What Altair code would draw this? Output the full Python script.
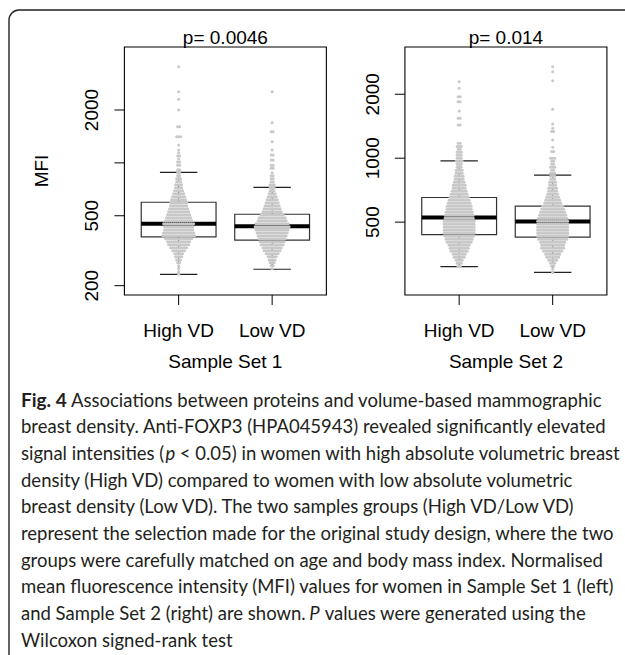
import altair as alt
import pandas as pd

# ---------------- values ----------------
groups = ["High VD", "Low VD"]
panel_titles = ["p= 0.0046", "p= 0.014"]
panel_xlabels = ["Sample Set 1", "Sample Set 2"]
y_title = "MFI"

# box statistics (MFI): lower whisker, Q1, median, Q3, upper whisker
stats_set1_high = [232, 379, 451, 597, 884]
stats_set1_low = [248, 363, 436, 510, 726]
stats_set2_high = [309, 437, 526, 653, 971]
stats_set2_low = [290, 425, 503, 595, 832]

# beeswarm rows: MFI level of a row and the number of dots in that row
set1_high_levels = [3527, 2541, 2301, 2000, 1607, 1409, 1264, 1185, 1140, 1094, 1051, 1010, 970,
                    914, 879, 845, 812, 781, 751, 722, 694, 667, 641, 617, 593, 570, 548, 527, 506,
                    487, 468, 450, 433, 416, 400, 385, 370, 356, 342, 329, 316, 304, 292, 280, 270,
                    260, 250, 240, 232]
set1_high_counts = [1, 1, 1, 1, 2, 3, 1, 1, 1, 2, 1, 2, 2,
                    2, 2, 2, 3, 3, 4, 4, 5, 6, 7, 8, 9, 9, 10, 11, 12,
                    13, 14, 16, 15, 15, 16, 17, 14, 12, 11, 9, 7, 5, 4, 3, 2,
                    1, 1, 1, 1]

set1_low_levels = [2541, 1693, 1505, 1320, 1185, 1109, 1038, 970, 932,
                   879, 845, 812, 781, 751, 722, 694, 667, 641, 617, 593, 570, 548, 527, 506,
                   487, 468, 450, 433, 416, 400, 385, 370, 356, 342, 329, 316, 304, 292, 280,
                   270, 260, 250]
set1_low_counts = [1, 1, 2, 1, 1, 2, 2, 2, 2,
                   1, 2, 2, 2, 3, 3, 3, 4, 5, 6, 7, 8, 9, 10, 12,
                   14, 15, 17, 18, 17, 16, 15, 14, 13, 12, 10, 9, 7, 5, 4,
                   3, 2, 1]

set2_high_levels = [2293, 2134, 1949, 1846, 1669, 1542, 1434, 1176, 1134,
                    1101, 1066, 1032, 999, 967, 936, 906, 877, 849, 822,
                    796, 771, 746, 722, 699, 677, 655, 634, 614, 594,
                    575, 557, 539, 522, 505, 489, 473, 458, 443, 429,
                    415, 402, 389, 377, 365, 353, 342, 331, 320, 310]
set2_high_counts = [1, 1, 2, 2, 1, 2, 2, 2, 3,
                    2, 3, 3, 3, 4, 3, 3, 4, 4, 5,
                    5, 6, 7, 7, 8, 9, 10, 11, 12, 13,
                    13, 14, 15, 15, 16, 16, 16, 16, 16, 15,
                    14, 13, 11, 10, 9, 7, 6, 4, 3, 2]

set2_low_levels = [2697, 2555, 2317, 1700, 1450, 1384, 1334, 1219, 1126, 1074,
                   999, 967, 936, 906, 877, 849, 822, 796, 771, 746,
                   722, 699, 677, 655, 634, 614, 594, 575, 557, 539,
                   522, 505, 489, 473, 458, 443, 429, 415, 402, 389,
                   377, 365, 353, 342, 331, 320, 310, 300, 290]
set2_low_counts = [1, 1, 1, 1, 1, 1, 2, 1, 1, 2,
                   3, 2, 2, 3, 2, 3, 3, 3, 4, 4,
                   5, 5, 6, 7, 8, 9, 11, 12, 13, 14,
                   15, 16, 16, 16, 16, 16, 16, 15, 13, 12,
                   12, 10, 8, 7, 5, 3, 2, 1, 1]

set1_ticks = [200, 500, 1000, 2000]
set1_tick_labels = ["200", "500", "", "2000"]
set2_ticks = [500, 1000, 2000]
set2_tick_labels = ["500", "1000", "2000"]

caption_bold = "Fig. 4"
caption_lines = [
    "Associations between proteins and volume-based mammographic",
    "breast density. Anti-FOXP3 (HPA045943) revealed significantly elevated",
    "signal intensities (",
    "density (High VD) compared to women with low absolute volumetric",
    "breast density (Low VD). The two samples groups (High VD/Low VD)",
    "represent the selection made for the original study design, where the two",
    "groups were carefully matched on age and body mass index. Normalised",
    "mean fluorescence intensity (MFI) values for women in Sample Set 1 (left)",
    "and Sample Set 2 (right) are shown.",
    "Wilcoxon signed-rank test",
]
line3_italic, line3_rest = "p", "< 0.05) in women with high absolute volumetric breast"
line9_italic, line9_rest = "P", "values were generated using the"

# ---------------- layout ----------------
X_DOMAIN = [0.42, 5.58]
X_RANGE = [124.4, 606.9]
Y_RANGE = [295, 47]
PX_PER_UNIT = (X_RANGE[1] - X_RANGE[0]) / (X_DOMAIN[1] - X_DOMAIN[0])
DOT_STEP = 2.0 / PX_PER_UNIT
LABEL_FONT = "Liberation Sans"
LABEL_SIZE = 19
CAP_FONT = "Lato"
CAP_SIZE = 18.5
CAP_S = CAP_SIZE / 18.0
CAP_X = 21
CAP_Y0 = 406.7
CAP_DY = 26.67
INK = "#231f20"

xscale = alt.Scale(domain=X_DOMAIN, range=X_RANGE, nice=False, zero=False)


def swarm(levels, counts, pos):
    rows = []
    for lv, n in zip(levels, counts):
        for i in range(n):
            rows.append({"x": pos + (i - (n - 1) / 2) * DOT_STEP, "mfi": lv})
    return rows


def panel(positions, xlim, ydomain, stats, swarms, ticks, tick_labels, axis_x):
    ysc = alt.Scale(type="log", domain=ydomain, range=Y_RANGE, nice=False, zero=False)
    frame_df = pd.DataFrame({"x0": [xlim[0]], "x1": [xlim[1]], "y0": [ydomain[0]], "y1": [ydomain[1]]})
    frame = alt.Chart(frame_df).mark_rect(fillOpacity=0, stroke="black", strokeWidth=1.1).encode(
        x=alt.X("x0:Q", scale=xscale, axis=None), x2="x1:Q",
        y=alt.Y("y0:Q", scale=ysc, axis=None), y2="y1:Q")
    box_df = pd.DataFrame({
        "pos": positions,
        "grp": groups,
        "left": [p - 0.4 for p in positions],
        "right": [p + 0.4 for p in positions],
        "capl": [p - 0.2 for p in positions],
        "capr": [p + 0.2 for p in positions],
        "lo": [s[0] for s in stats],
        "q1": [s[1] for s in stats],
        "med": [s[2] for s in stats],
        "q3": [s[3] for s in stats],
        "hi": [s[4] for s in stats],
    })
    base = alt.Chart(box_df)
    X = lambda f: alt.X(f, scale=xscale, axis=None)
    Y = lambda f: alt.Y(f, scale=ysc, axis=None)
    whisk_up = base.mark_rule(color="#333", strokeWidth=1, strokeDash=[4, 3]).encode(
        x=X("pos:Q"), y=Y("q3:Q"), y2="hi:Q")
    whisk_dn = base.mark_rule(color="#333", strokeWidth=1, strokeDash=[4, 3]).encode(
        x=X("pos:Q"), y=Y("q1:Q"), y2="lo:Q")
    box = base.mark_rect(fill="white", stroke="#333", strokeWidth=1.2).encode(
        x=X("left:Q"), x2="right:Q", y=Y("q1:Q"), y2="q3:Q")
    cap_hi = base.mark_rule(color="#222", strokeWidth=1.2).encode(
        x=X("capl:Q"), x2="capr:Q", y=Y("hi:Q"))
    cap_lo = base.mark_rule(color="#222", strokeWidth=1.2).encode(
        x=X("capl:Q"), x2="capr:Q", y=Y("lo:Q"))
    rows = []
    for (lv, ct), p in zip(swarms, positions):
        rows += swarm(lv, ct, p)
    pts = alt.Chart(pd.DataFrame(rows)).mark_circle(size=9, color="#c8c8c8", opacity=1).encode(
        x=X("x:Q"), y=Y("mfi:Q"))
    med = base.mark_rule(color="black", strokeWidth=4).encode(
        x=X("left:Q"), x2="right:Q", y=Y("med:Q"))
    # axes drawn from the tick lists through the panel scales
    tick_df = pd.DataFrame({"v": ticks, "lab": tick_labels})
    yticks = alt.Chart(tick_df).mark_rule(color="black", strokeWidth=1).encode(
        x=alt.value(axis_x - 10), x2=alt.value(axis_x), y=Y("v:Q"))
    ylabels = alt.Chart(tick_df).mark_text(font=LABEL_FONT, fontSize=LABEL_SIZE, color="black", angle=270,
                                           align="center", baseline="alphabetic").encode(
        x=alt.value(axis_x - 26.3), y=Y("v:Q"), text="lab:N")
    xticks = base.mark_rule(color="black", strokeWidth=1).encode(
        x=X("pos:Q"), y=alt.value(Y_RANGE[0]), y2=alt.value(Y_RANGE[0] + 10))
    xlabels = base.mark_text(font=LABEL_FONT, fontSize=LABEL_SIZE, color="black", align="center",
                             baseline="alphabetic").encode(
        x=X("pos:Q"), y=alt.value(336.7), text="grp:N")
    return alt.layer(frame, whisk_up, whisk_dn, box, cap_hi, cap_lo, med, pts,
                     yticks, ylabels, xticks, xlabels)


p1 = panel([1, 2], [0.42, 2.58], [177, 4566], [stats_set1_high, stats_set1_low],
           [(set1_high_levels, set1_high_counts), (set1_low_levels, set1_low_counts)],
           set1_ticks, set1_tick_labels, X_RANGE[0])
p2 = panel([4, 5], [3.42, 5.58], [227, 3338], [stats_set2_high, stats_set2_low],
           [(set2_high_levels, set2_high_counts), (set2_low_levels, set2_low_counts)],
           set2_ticks, set2_tick_labels, 404.9)

# panel titles and x titles
ttl_df = pd.DataFrame({"pos": [1.5, 4.5], "title": panel_titles, "xlab": panel_xlabels})
ptitle = alt.Chart(ttl_df).mark_text(font=LABEL_FONT, fontSize=LABEL_SIZE, color="black",
                                     baseline="alphabetic", align="center").encode(
    x=alt.X("pos:Q", scale=xscale, axis=None), y=alt.value(44), text="title:N")
xtitle = alt.Chart(ttl_df).mark_text(font=LABEL_FONT, fontSize=LABEL_SIZE, color="black",
                                     baseline="alphabetic", align="center").encode(
    x=alt.X("pos:Q", scale=xscale, axis=None), y=alt.value(368), text="xlab:N")
ytitle = alt.Chart(pd.DataFrame({"t": [y_title]})).mark_text(
    font=LABEL_FONT, fontSize=LABEL_SIZE, color="black", baseline="alphabetic", align="center",
    angle=270).encode(x=alt.value(48), y=alt.value(171), text="t:N")

# caption
cap_df = pd.DataFrame({"line": caption_lines, "py": [CAP_Y0 + i * CAP_DY for i in range(len(caption_lines))]})
cap_main = alt.Chart(cap_df.iloc[1:]).mark_text(font=CAP_FONT, fontSize=CAP_SIZE, color=INK,
                                                align="left", baseline="alphabetic").encode(
    x=alt.value(CAP_X), y=alt.Y("py:Q", scale=None, axis=None), text="line:N")
cap_first = alt.Chart(cap_df.iloc[:1]).mark_text(font=CAP_FONT, fontSize=CAP_SIZE, color=INK,
                                                 align="left", baseline="alphabetic").encode(
    x=alt.value(71), y=alt.Y("py:Q", scale=None, axis=None), text="line:N")
cap_bold = alt.Chart(pd.DataFrame({"t": [caption_bold], "py": [CAP_Y0]})).mark_text(
    font=CAP_FONT, fontSize=CAP_SIZE + 0.5, fontWeight="bold", color=INK, align="left",
    baseline="alphabetic").encode(x=alt.value(CAP_X), y=alt.Y("py:Q", scale=None, axis=None), text="t:N")


def seg(text, line_idx, x, style="normal"):
    d = pd.DataFrame({"t": [text], "py": [CAP_Y0 + line_idx * CAP_DY]})
    return alt.Chart(d).mark_text(font=CAP_FONT, fontSize=CAP_SIZE, color=INK, align="left",
                                  baseline="alphabetic", fontStyle=style).encode(
        x=alt.value(x), y=alt.Y("py:Q", scale=None, axis=None), text="t:N")


p3x = CAP_X + 140.5 * CAP_S
p9x = CAP_X + 280.5 * CAP_S
segs = [seg(line3_italic, 2, p3x, "italic"), seg(line3_rest, 2, p3x + 14 * CAP_S),
        seg(line9_italic, 8, p9x, "italic"), seg(line9_rest, 8, p9x + 15 * CAP_S)]

border = alt.Chart(pd.DataFrame({"a": [0]})).mark_rect(
    fillOpacity=0, stroke="#222", strokeWidth=1.4, cornerRadius=10).encode(
    x=alt.value(9), x2=alt.value(700), y=alt.value(10), y2=alt.value(760))

chart = alt.layer(border, p1, p2, ptitle, xtitle, ytitle, cap_bold, cap_first, cap_main, *segs).resolve_scale(
    y="independent").properties(
    width=625, height=655, autosize=alt.AutoSizeParams(type="none"), padding=0,
    background="white").configure_view(stroke=None)

chart.save("out.html", embed_options={"renderer": "svg", "actions": False})
